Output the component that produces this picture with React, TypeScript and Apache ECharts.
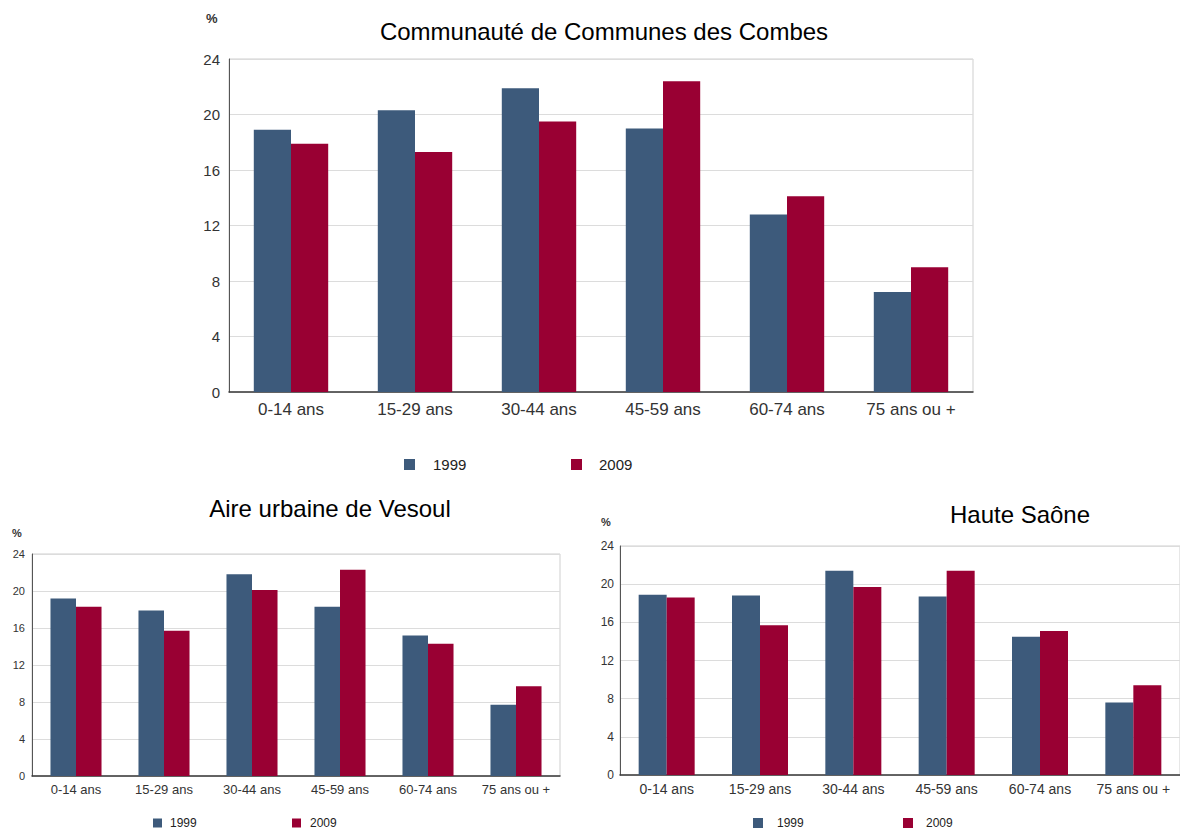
import React, { useEffect, useRef } from "react";
import * as echarts from "echarts";

const categories = ["0-14 ans", "15-29 ans", "30-44 ans", "45-59 ans", "60-74 ans", "75 ans ou +"];
const years = ["1999", "2009"];
const combes1999 = [18.9, 20.3, 21.9, 19.0, 12.8, 7.2];
const combes2009 = [17.9, 17.3, 19.5, 22.4, 14.1, 9.0];
const vesoul1999 = [19.2, 17.9, 21.8, 18.3, 15.2, 7.7];
const vesoul2009 = [18.3, 15.7, 20.1, 22.3, 14.3, 9.7];
const saone1999 = [18.9, 18.8, 21.4, 18.7, 14.5, 7.6];
const saone2009 = [18.6, 15.7, 19.7, 21.4, 15.1, 9.4];
const panelTitles = ["Communauté de Communes des Combes", "Aire urbaine de Vesoul", "Haute Saône"];
const unitLabel = "%";
const yMin = 0;
const yMax = 24;
const yStep = 4;

const BLUE = "#3d5a7b";
const RED = "#990033";
const FONT = "'Liberation Sans', Arial, sans-serif";

const panels = [
  {
    title: panelTitles[0], a: combes1999, b: combes2009,
    grid: { left: 229, top: 59, width: 744, height: 333 },
    titlePos: { x: 604, y: 19, size: 24 },
    unitPos: { x: 206, y: 12, size: 13 },
    tick: 15, cat: 17, yMargin: 9, xMargin: 9, gap: "40%",
    legend: { y: 457, size: 15, icon: 11, items: [{ x: 404, tx: 433 }, { x: 571, tx: 599 }] },
  },
  {
    title: panelTitles[1], a: vesoul1999, b: vesoul2009,
    grid: { left: 32, top: 554, width: 528, height: 222 },
    titlePos: { x: 330, y: 496, size: 24 },
    unitPos: { x: 12, y: 527, size: 11 },
    tick: 11, cat: 13, yMargin: 7, xMargin: 7, gap: "42%",
    legend: { y: 817, size: 12, icon: 9, items: [{ x: 153, tx: 170 }, { x: 292, tx: 310 }] },
  },
  {
    title: panelTitles[2], a: saone1999, b: saone2009,
    grid: { left: 620, top: 546, width: 576, height: 229 },
    titlePos: { x: 1020, y: 502, size: 24 },
    unitPos: { x: 601, y: 516, size: 11 },
    tick: 12, cat: 14, yMargin: 6, xMargin: 7, gap: "40%",
    legend: { y: 817, size: 12, icon: 10, items: [{ x: 753, tx: 777 }, { x: 903, tx: 926 }] },
  },
];

export default function App() {
  const ref = useRef<HTMLDivElement>(null);
  useEffect(() => {
    if (!ref.current) return;
    const chart = echarts.init(ref.current, undefined, { renderer: "svg" });
    const titles: any[] = [];
    const grids: any[] = [];
    const xAxes: any[] = [];
    const yAxes: any[] = [];
    const series: any[] = [];
    const legends: any[] = [];
    panels.forEach((p, i) => {
      titles.push({
        text: p.title, left: p.titlePos.x, top: p.titlePos.y, textAlign: "center", padding: 0,
        textStyle: { fontFamily: FONT, fontSize: p.titlePos.size, fontWeight: "normal", color: "#000" },
      });
      titles.push({
        text: unitLabel, left: p.unitPos.x, top: p.unitPos.y, padding: 0,
        textStyle: { fontFamily: FONT, fontSize: p.unitPos.size, fontWeight: "bold", color: "#333" },
      });
      grids.push({
        ...p.grid, show: true, borderColor: "#cfcfcf", borderWidth: 1, backgroundColor: "transparent",
      });
      xAxes.push({
        type: "category", gridIndex: i, data: categories,
        axisLine: { lineStyle: { color: "#3a3a3a", width: 1.5 } },
        axisTick: { show: false },
        axisLabel: { fontFamily: FONT, fontSize: p.cat, color: "#333", margin: p.xMargin, interval: 0 },
      });
      yAxes.push({
        type: "value", gridIndex: i, min: yMin, max: yMax, interval: yStep,
        axisLine: { show: true, lineStyle: { color: "#555", width: 1 } },
        axisTick: { show: false },
        splitLine: { lineStyle: { color: "#dcdcdc", width: 1 } },
        axisLabel: { fontFamily: FONT, fontSize: p.tick, color: "#333", margin: p.yMargin },
      });
      series.push({
        name: years[0], type: "bar", xAxisIndex: i, yAxisIndex: i, data: p.a,
        itemStyle: { color: BLUE }, barGap: "0%", barCategoryGap: p.gap,
      });
      series.push({
        name: years[1], type: "bar", xAxisIndex: i, yAxisIndex: i, data: p.b,
        itemStyle: { color: RED }, barGap: "0%", barCategoryGap: p.gap,
      });
      p.legend.items.forEach((it, k) => {
        legends.push({
          data: [years[k]], left: it.x, top: p.legend.y, icon: "rect", padding: 0,
          itemWidth: p.legend.icon, itemHeight: p.legend.icon,
          selectedMode: false,
          textStyle: {
            fontFamily: FONT, fontSize: p.legend.size, color: "#222",
            padding: [0, 0, 0, Math.max(0, it.tx - (it.x + p.legend.icon) - 5)],
          },
        });
      });
    });
    chart.setOption({
      animation: false,
      backgroundColor: "#fff",
      title: titles,
      grid: grids,
      xAxis: xAxes,
      yAxis: yAxes,
      series,
      legend: legends,
    });
    return () => chart.dispose();
  }, []);
  return (
    <div
      ref={ref}
      style={{ position: "fixed", left: 0, top: 0, width: 1180, height: 832 }}
    />
  );
}
